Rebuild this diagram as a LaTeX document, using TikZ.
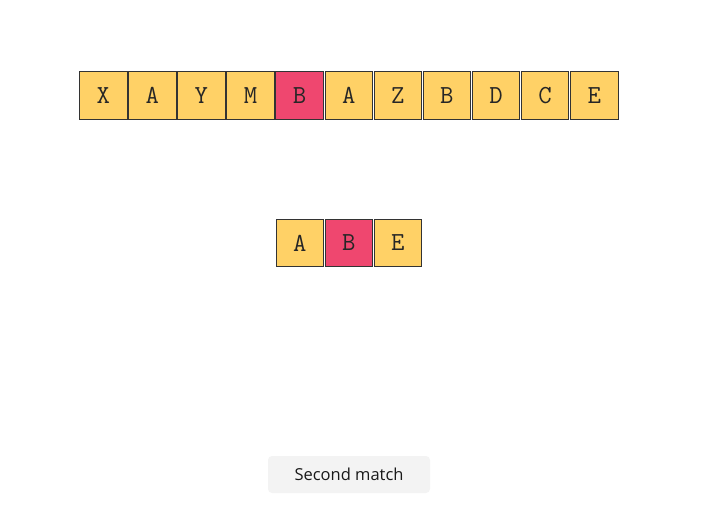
\documentclass[tikz,border=0pt]{standalone}
\usepackage{fontspec}
\newfontfamily\btnfont{Open Sans}
\definecolor{cellyellow}{HTML}{FFD166}
\definecolor{cellpink}{HTML}{EF476F}
\definecolor{btngray}{HTML}{F3F3F3}
\definecolor{edge}{HTML}{333333}
\tikzset{
  cell/.style={draw=edge, line width=0.9pt, fill=cellyellow, minimum width=47.5pt, minimum height=47.5pt, inner sep=0pt, font=\ttfamily\fontsize{26}{26}\selectfont, text=black!85},
  hit/.style={cell, fill=cellpink},
  btn/.style={fill=btngray, rounded corners=4pt, minimum width=162pt, minimum height=37pt, inner sep=0pt, font=\btnfont\fontsize{16.5}{16.5}\selectfont, text=black!90}
}
\begin{document}
\begin{tikzpicture}[x=1pt,y=1pt]
\useasboundingbox (0,0) rectangle (716,-507);
\foreach \ch [count=\i from 0] in {X,A,Y,M,B,A,Z,B,D,C,E} {
  \ifnum\i=4
    \node[hit] (t\i) at ({103.2+49.1*\i},-95.5) {\ch};
  \else
    \node[cell] (t\i) at ({103.2+49.1*\i},-95.5) {\ch};
  \fi
}
\node[cell] (p0) at (299.8,-243) {A};
\node[hit] (p1) at (348.8,-243) {B};
\node[cell] (p2) at (397.8,-243) {E};
\node[btn] (button) at (349,-474.5) {Second match};
\end{tikzpicture}
\end{document}
